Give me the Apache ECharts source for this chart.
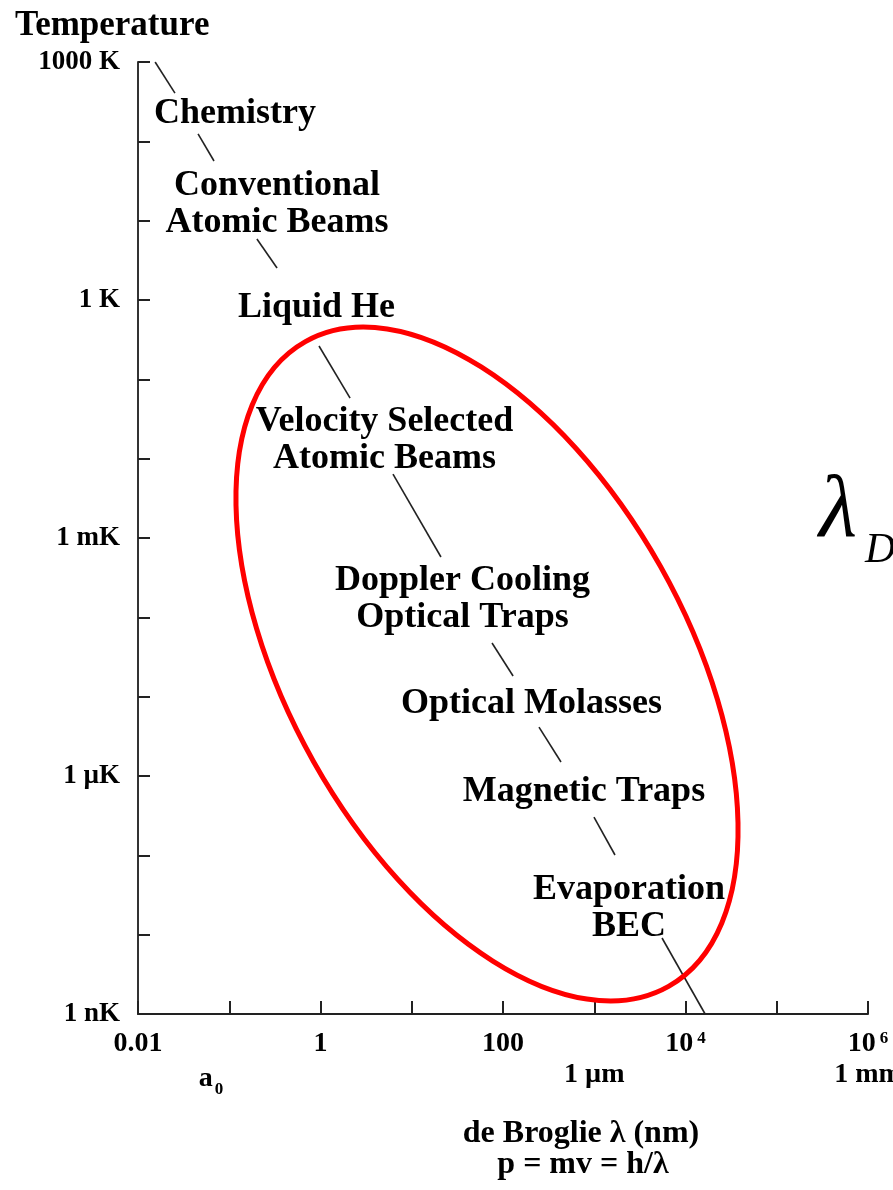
<!DOCTYPE html>
<html>
<head>
<meta charset="utf-8">
<script src="https://cdn.jsdelivr.net/npm/echarts@6/dist/echarts.min.js"></script>
<style>
html,body{margin:0;padding:0;background:#fff;}
#chart{width:893px;height:1190px;}
</style>
</head>
<body>
<div id="chart"></div>
<script>
// ---- data ----
var xTickValues = [0.01, 0.1, 1, 10, 100, 1000, 1e4, 1e5, 1e6];
var xLabelValues = [0.01, 1, 100, 1e4, 1e6];
var xLabelTexts = ['0.01', '1', '100', '10{sup|4}', '10{sup|6}'];
var xUnitValues = [0.0529, 1000, 1e6];
var xUnitTexts = ['{a|a}{sub|0}', '{u|1 \u00b5m}', '{u|1 mm}'];
var yTickValues = [1e3, 1e2, 10, 1, 0.1, 1e-2, 1e-3, 1e-4, 1e-5, 1e-6, 1e-7, 1e-8, 1e-9];
var yLabelValues = [1e3, 1, 1e-3, 1e-6, 1e-9];
var yLabelTexts = ['1000 K', '1 K', '1 mK', '1 \u00b5K', '1 nK'];

// visible pieces of the lambda-vs-T line  [lambda (nm), T (K)]
var segmentStarts = [[0.0154, 1000], [0.0455, 124], [0.201, 5.87], [0.963, 0.263], [6.23, 0.0064], [75.8, 4.74e-5], [248, 4.14e-6], [993, 3.04e-7], [5530, 9.08e-9]];
var segmentEnds   = [[0.0254, 406], [0.0681, 56.5], [0.334, 2.53], [2.11, 0.0581], [20.9, 5.76e-4], [129, 1.82e-5], [432, 1.5e-6], [1688, 1.01e-7], [16400, 1e-9]];

// regime labels placed along the line
var stageNames = ['Chemistry', 'Conventional\nAtomic Beams', 'Liquid He', 'Velocity Selected\nAtomic Beams', 'Doppler Cooling\nOptical Traps', 'Optical Molasses', 'Magnetic Traps', 'Evaporation\nBEC'];
var stageX = [0.1156, 0.334, 0.904, 5.03, 36.0, 205, 772, 2403];
var stageT = [248, 18.2, 0.89, 0.0193, 1.91e-4, 9.07e-6, 7.05e-7, 2.43e-8];

// ---- chart ----
var SERIF = '"Liberation Serif", "DejaVu Serif", serif';
function near(a, b) { return Math.abs(Math.log10(a) - Math.log10(b)) < 1e-6; }
function lookup(vals, texts, v) {
  for (var i = 0; i < vals.length; i++) if (near(vals[i], v)) return texts[i];
  return '';
}

var segData = segmentStarts.map(function (s, i) { return { coords: [s, segmentEnds[i]] }; });
var stageData = stageNames.map(function (n, i) { return { name: n, value: [stageX[i], stageT[i]] }; });

var chart = echarts.init(document.getElementById('chart'), null, { renderer: 'canvas' });
chart.setOption({
  animation: false,
  backgroundColor: '#ffffff',
  grid: { left: 138, right: 25, top: 62, bottom: 176, containLabel: false, outerBoundsMode: 'none' },
  xAxis: [{
    type: 'log', logBase: 10, min: 0.01, max: 1e6,
    axisLine: { show: true, lineStyle: { color: '#222', width: 2 } },
    axisTick: { show: true, inside: true, length: 13, customValues: xTickValues, lineStyle: { color: '#222', width: 2 } },
    splitLine: { show: false },
    axisLabel: {
      customValues: xLabelValues, margin: 16,
      fontFamily: SERIF, fontWeight: 'bold', fontSize: 28, color: '#000',
      formatter: function (v) { return lookup(xLabelValues, xLabelTexts, v); },
      rich: { sup: { fontFamily: SERIF, fontWeight: 'bold', fontSize: 17, color: '#000', verticalAlign: 'top', padding: [0, 0, 0, 4] } }
    }
  }, {
    type: 'log', logBase: 10, min: 0.01, max: 1e6, position: 'bottom',
    axisLine: { show: false }, axisTick: { show: false }, splitLine: { show: false },
    axisLabel: {
      customValues: xUnitValues, margin: 47, verticalAlign: 'top',
      fontFamily: SERIF, fontWeight: 'bold', fontSize: 28, color: '#000',
      formatter: function (v) { return lookup(xUnitValues, xUnitTexts, v); },
      rich: {
        u: { fontFamily: SERIF, fontWeight: 'bold', fontSize: 28, color: '#000', verticalAlign: 'top' },
        a: { fontFamily: SERIF, fontWeight: 'bold', fontSize: 28, color: '#000', verticalAlign: 'top', padding: [4, 0, 0, 14] },
        sub: { fontFamily: SERIF, fontWeight: 'bold', fontSize: 17, color: '#000', verticalAlign: 'top', padding: [20, 0, 0, 2] }
      }
    }
  }],
  yAxis: {
    type: 'log', logBase: 10, min: 1e-9, max: 1e3,
    axisLine: { show: true, lineStyle: { color: '#333', width: 2 } },
    axisTick: { show: true, inside: true, length: 12, customValues: yTickValues, lineStyle: { color: '#222', width: 2 } },
    splitLine: { show: false },
    axisLabel: {
      customValues: yLabelValues, margin: 18,
      fontFamily: SERIF, fontWeight: 'bold', fontSize: 27, color: '#000',
      formatter: function (v) { return lookup(yLabelValues, yLabelTexts, v); }
    }
  },
  series: [{
    type: 'lines', coordinateSystem: 'cartesian2d', polyline: false, silent: true,
    lineStyle: { color: '#222', width: 1.6, opacity: 1 },
    data: segData
  }, {
    type: 'scatter', silent: true, symbolSize: 1,
    itemStyle: { color: 'rgba(0,0,0,0)', opacity: 1 },
    label: {
      show: true, position: 'inside', formatter: '{b}', align: 'center', verticalAlign: 'middle', offset: [0, 4],
      fontFamily: SERIF, fontWeight: 'bold', fontSize: 36, lineHeight: 37, color: '#000', opacity: 1,
      textBorderWidth: 0
    },
    data: stageData
  }],
  graphic: [
    { type: 'text', left: 15, top: 8, style: { text: 'Temperature', font: 'bold 35px ' + SERIF, fill: '#000' } },
    { type: 'text', x: 581, y: 1134, style: { text: 'de Broglie \u03bb (nm)', font: 'bold 32px ' + SERIF, fill: '#000', align: 'center', verticalAlign: 'middle' } },
    { type: 'text', x: 583, y: 1165, style: { text: 'p = mv = h/\u03bb', font: 'bold 32px ' + SERIF, fill: '#000', align: 'center', verticalAlign: 'middle' } },
    { type: 'text', x: 819, y: 513, style: { text: '\u03bb', font: 'italic 88px ' + SERIF, fill: '#000', align: 'left', verticalAlign: 'middle' } },
    { type: 'text', x: 865, y: 551, style: { text: 'D', font: 'italic 42px ' + SERIF, fill: '#000', align: 'left', verticalAlign: 'middle' } },
    { type: 'ellipse', x: 487, y: 664, rotation: 0.513, shape: { cx: 0, cy: 0, rx: 199, ry: 370 }, style: { fill: 'none', stroke: '#ff0000', lineWidth: 5 }, z: 100 }
  ]
});
</script>
</body>
</html>
